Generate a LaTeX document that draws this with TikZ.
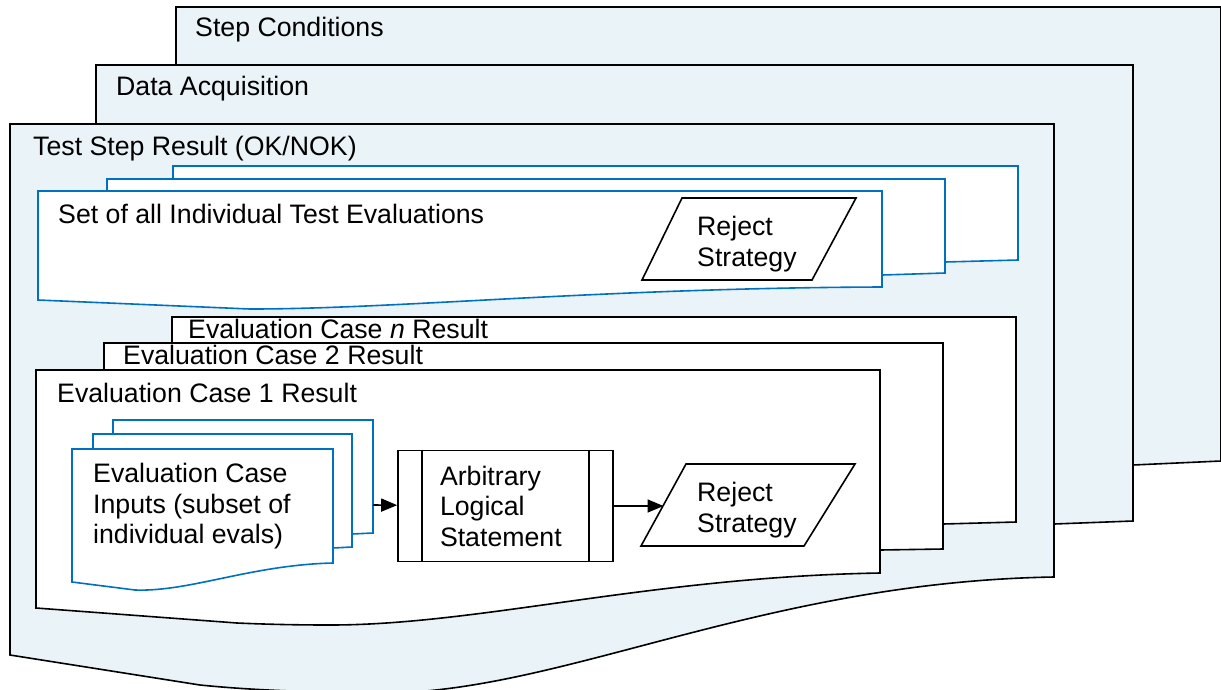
\documentclass[tikz,border=0pt]{standalone}
\usepackage{fontspec}
\setmainfont{Liberation Sans}
\usetikzlibrary{arrows.meta}
\definecolor{pagefill}{RGB}{234,243,247}
\definecolor{docblue}{RGB}{0,112,192}

\tikzset{
  page/.style={draw=black, fill=pagefill, line width=1.6pt},
  sheet/.style={draw=black, fill=white, line width=1.6pt},
  bluesheet/.style={draw=docblue, fill=white, line width=1.6pt},
  lbl/.style={anchor=base west, inner sep=0pt},
  multi/.style={anchor=north west, inner sep=0pt, align=left},
  proc/.style={draw, fill=white, line width=1.6pt, minimum width=215pt, minimum height=111pt, text width=131pt, align=left, inner sep=0pt}
}

\begin{document}
\begin{tikzpicture}[x=1pt,y=-1pt,font=\fontsize{26.7}{30.5}\selectfont,>={Triangle[length=16pt,width=13pt]}]
    \useasboundingbox (0,0) rectangle (1221,689);
    \path[page] (176,7) -- (1221,7) -- (1221,461) -- (1133,465) -- (176,470) -- cycle;
    \path[page] (96,65) -- (1133,65) -- (1133,521) -- (1054,524) -- (96,530) -- cycle;
    \path[page] (10,124) -- (1054,124) -- (1054,577) .. controls (760,582) and (560,694) .. (380,693) .. controls (300,692) and (250,690) .. (200,685) -- (10,655) -- cycle;
    \node[lbl] (sc) at (195,36) {Step Conditions};
    \node[lbl] (da) at (116,95) {Data Acquisition};
    \node[lbl] (tsr) at (33,155) {Test Step Result (OK/NOK)};

    \path[bluesheet] (173,166) -- (1018,166) -- (1018,260) -- (945,262) -- (173,266) -- cycle;
    \path[bluesheet] (107,179) -- (945,179) -- (945,273) -- (882,275) -- (107,280) -- cycle;
    \path[bluesheet] (38,191) -- (882,191) -- (882,287) .. controls (600,288) and (400,309) .. (250,309) -- (38,300) -- cycle;
    \node[lbl] (set) at (58,223) {Set of all Individual Test Evaluations};
    \path[sheet] (682,198) -- (856,198) -- (812,280) -- (642,280) -- cycle;
    \node[multi] (rej1) at (697,216) {Reject\\Strategy};

    \path[sheet] (172,317) -- (1016,317) -- (1016,522) -- (943,524) -- (172,530) -- cycle;
    \path[sheet] (104,343) -- (943,343) -- (943,549) -- (880,550) -- (104,555) -- cycle;
    \path[sheet] (36,370) -- (880,370) -- (880,573) .. controls (650,577) and (480,625) .. (330,625) .. controls (290,625) and (260,624) .. (237,623) -- (36,608) -- cycle;
    \node[lbl] (ecn) at (188,338) {Evaluation Case \textit{n} Result};
    \node[lbl] (ec2) at (123,364) {Evaluation Case 2 Result};
    \node[lbl] (ec1) at (57,402) {Evaluation Case 1 Result};

    \path[bluesheet] (113,420) -- (373,420) -- (373,533) -- (352,534) -- (113,536) -- cycle;
    \path[bluesheet] (93,434) -- (352,434) -- (352,547) -- (333,548) -- (93,550) -- cycle;
    \path[bluesheet] (72,449) -- (333,449) -- (333,563) .. controls (250,565) and (190,592) .. (135,590) -- (72,582) -- cycle;
    \node[multi] (inp) at (93,463) {Evaluation Case\\Inputs (subset of\\individual evals)};
    \coordinate (inR) at (373,505);

    \node[proc] (als) at (505.5,506) {Arbitrary\\Logical\\Statement};
    \draw[line width=1.6pt] ([xshift=25pt]als.north west) -- ([xshift=25pt]als.south west);
    \draw[line width=1.6pt] ([xshift=-25pt]als.north east) -- ([xshift=-25pt]als.south east);

    \path[sheet] (686,464) -- (855,464) -- (804,546) -- (641,546) -- cycle;
    \node[multi] (rej2) at (697,482) {Reject\\Strategy};
    \coordinate (rej2w) at (663.5,506);

    \draw[->, line width=1.6pt] (inR) -- (als);
    \draw[->, line width=1.6pt] (als) -- (rej2w);
\end{tikzpicture}
\end{document}
